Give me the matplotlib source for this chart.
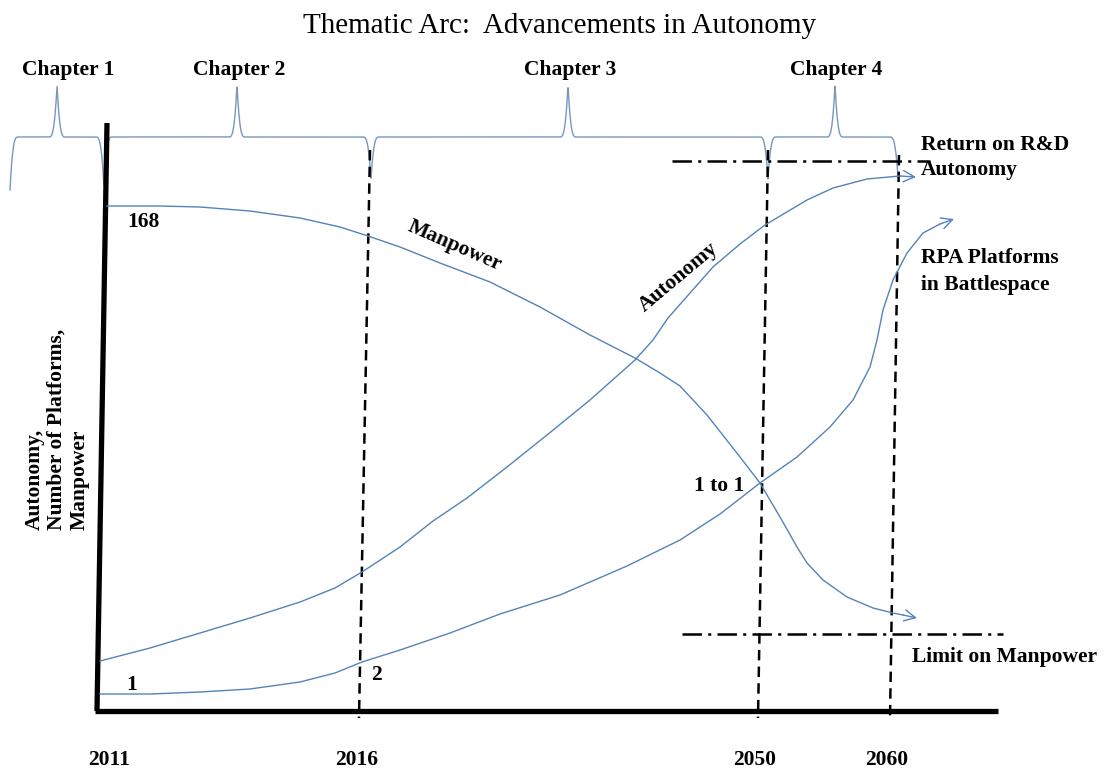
import numpy as np
import matplotlib
matplotlib.use('Agg')
import matplotlib.pyplot as plt

# Diagram drawn in picture units (x to the right, y downwards)

chapters = ['Chapter 1', 'Chapter 2', 'Chapter 3', 'Chapter 4']
chapter_x = [57, 237, 568, 835]
label_x = [68, 239, 570, 836]
brace_dips = [(10, 53), (104, 50), (371, 42), (768, 42), (898, 40)]

years = ['2011', '2016', '2050', '2060']
year_x = [109, 357, 755, 887]
# (top x, top y, bottom x, bottom y) of the dashed year markers
marker_top = [(370, 150), (768, 150), (899, 155)]
marker_bottom = [(359, 718), (758, 718), (890, 718)]

manpower_x = [107, 160, 200, 250, 300, 340, 368, 400, 440, 490, 540, 590, 635, 660,
              680, 707, 740, 760, 780, 797, 807, 823, 847, 873, 893, 903]
manpower_y = [206, 206, 207, 211, 218, 227, 236, 247, 263, 282, 307, 335, 358, 373,
              386, 415, 457, 483, 517, 547, 563, 580, 597, 608, 613, 615]

autonomy_x = [100, 150, 200, 250, 300, 335, 362, 400, 433, 467, 507, 547, 590, 635,
              653, 668, 690, 713, 740, 765, 807, 833, 867, 900]
autonomy_y = [661, 648, 633, 618, 602, 588, 572, 547, 521, 498, 467, 435, 400, 360,
              340, 318, 293, 267, 244, 225, 200, 188, 179, 176]

rpa_x = [100, 150, 200, 250, 300, 335, 362, 400, 450, 500, 560, 627, 680, 720, 760,
         797, 830, 853, 870, 877, 883, 893, 907, 923, 940]
rpa_y = [694, 694, 692, 689, 682, 673, 662, 650, 633, 614, 595, 566, 540, 514, 483,
         457, 427, 400, 367, 340, 310, 280, 253, 233, 224]

arrow_tips = {'manpower': (917, 618), 'autonomy': (916, 177), 'rpa': (954, 219)}

blue = '#5383bb'
brace_blue = '#7797bf'
serif = 'Liberation Serif'

plt.rcParams['lines.scale_dashes'] = False

fig = plt.figure(figsize=(11.07, 7.69), dpi=100)
ax = fig.add_axes([0, 0, 1, 1])
ax.set_xlim(0, 1107)
ax.set_ylim(769, 0)
ax.axis('off')

# title
ax.text(560, 33, 'Thematic Arc:  Advancements in Autonomy', ha='center', va='baseline',
        fontsize=21, family=serif)

# chapter brace
bx = np.linspace(10, 898, 3000)
by = np.full_like(bx, 137.0)
for cx in chapter_x:
    d = np.abs(bx - cx)
    m = d < 8
    by[m] -= 52 * (1 - d[m] / 8) ** 3
for cx, depth in brace_dips:
    d = np.abs(bx - cx)
    m = d < 8
    by[m] += depth * (1 - d[m] / 8) ** 3
ax.plot(bx, by, color=brace_blue, lw=1.0)

for name, lx in zip(chapters, label_x):
    ax.text(lx, 75, name, ha='center', va='baseline', fontsize=15.5, fontweight='bold', family=serif)

# axes of the diagram
ax.plot([107, 97], [123, 711], color='black', lw=3.8, solid_capstyle='butt')
ax.plot([95, 998], [711, 711], color='black', lw=3.8, solid_capstyle='butt')

# dashed year markers
for (x0, y0), (x1, y1) in zip(marker_top, marker_bottom):
    ax.plot([x0, x1], [y0, y1], color='black', lw=1.8, dashes=(7.5, 4.5))

for name, yx in zip(years, year_x):
    ax.text(yx, 765, name, ha='center', va='baseline', fontsize=15.5, fontweight='bold', family=serif)

# limit lines
ax.plot([672, 930], [161, 161], color='black', lw=1.8, dashes=(14, 4.5, 2.2, 4.5))
ax.plot([682, 1003], [634, 634], color='black', lw=1.8, dashes=(14, 4.5, 2.2, 4.5))

# curves
for xs, ys, key in [(manpower_x, manpower_y, 'manpower'),
                    (autonomy_x, autonomy_y, 'autonomy'),
                    (rpa_x, rpa_y, 'rpa')]:
    ax.plot(xs, ys, color=blue, lw=1.0)
    ax.annotate('', xy=arrow_tips[key], xytext=(xs[-1], ys[-1]),
                arrowprops=dict(arrowstyle='->,head_length=0.8,head_width=0.4',
                                color=blue, lw=1.0, shrinkA=0, shrinkB=0))

# labels
bold = dict(fontsize=15.5, fontweight='bold', family=serif)
ax.text(455, 246, 'Manpower', rotation=-23.5, rotation_mode='anchor', ha='center', va='center', **bold)
ax.text(678, 277, 'Autonomy', rotation=40, rotation_mode='anchor', ha='center', va='center', **bold)
ax.text(127, 227, '168', ha='left', va='baseline', **bold)
ax.text(126, 690, '1', ha='left', va='baseline', **bold)
ax.text(371, 680, '2', ha='left', va='baseline', **bold)
ax.text(719, 491, '1 to 1', ha='center', va='baseline', **bold)
ax.text(921, 150, 'Return on R&D', ha='left', va='baseline', **bold)
ax.text(921, 175, 'Autonomy', ha='left', va='baseline', **bold)
ax.text(921, 263, 'RPA Platforms', ha='left', va='baseline', **bold)
ax.text(921, 290, 'in Battlespace', ha='left', va='baseline', **bold)
ax.text(912, 662, 'Limit on Manpower', ha='left', va='baseline', **bold)
ax.text(57, 530, 'Autonomy,\nNumber of Platforms,\nManpower', rotation=90,
        ha='center', va='bottom', multialignment='left', linespacing=1.15, **bold)

fig.savefig('out.png', dpi=100)
